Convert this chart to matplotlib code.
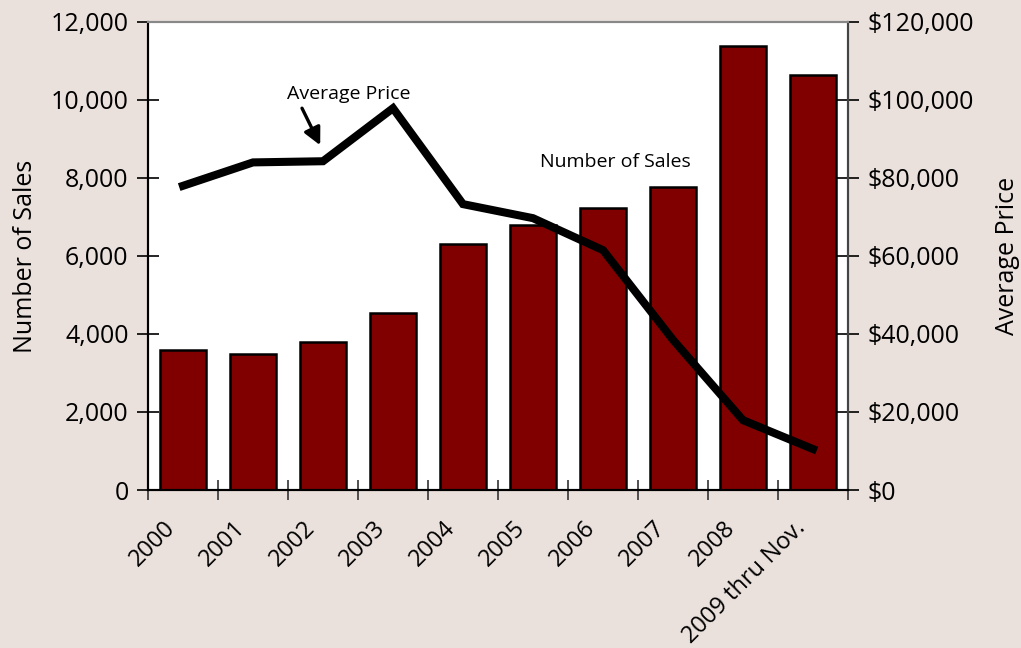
import matplotlib.pyplot as plt
import numpy as np
from matplotlib.ticker import FuncFormatter

# Annual sales and average price
categories = ["2000", "2001", "2002", "2003", "2004", "2005", "2006", "2007", "2008", "2009 thru Nov."]
num_sales = [3600, 3500, 3800, 4550, 6300, 6800, 7230, 7770, 11380, 10650]
avg_price = [78000, 84000, 84300, 97900, 73300, 69700, 61500, 38500, 17900, 10500]

plt.rcParams['font.family'] = ['Open Sans', 'DejaVu Sans']

bg = '#EAE0DC'
fig = plt.figure(figsize=(10.21, 6.48), dpi=100, facecolor=bg)
ax = fig.add_axes([148/1021, 1 - 490/648, 700/1021, 468/648])
ax.set_facecolor('white')

x = np.arange(len(categories))
ax.bar(x, num_sales, width=0.66, color='#800000', edgecolor='black', linewidth=1.8, zorder=2)
ax.set_xlim(-0.5, len(categories) - 0.5)
ax.set_ylim(0, 12000)
ax.set_yticks(np.arange(0, 12001, 2000))
ax.yaxis.set_major_formatter(FuncFormatter(lambda v, p: f"{int(v):,}"))
ax.set_ylabel("Number of Sales", fontsize=18, labelpad=9)

# Category ticks sit between bars; labels hang just left of each bar centre
ax.set_xticks(np.arange(-0.5, len(categories), 1.0))
ax.set_xticklabels([])
ax.set_xticks(x - 0.28, minor=True)
ax.set_xticklabels(categories, minor=True, rotation=45, ha='right', rotation_mode='anchor', fontsize=17)
ax.tick_params(axis='x', which='minor', length=0, pad=19)
ax.tick_params(axis='x', which='major', direction='inout', length=14, width=1.2, colors='#333333')
ax.tick_params(axis='y', direction='inout', length=16, width=1.2, labelsize=18, pad=6)

ax2 = ax.twinx()
ax2.plot(x, avg_price, color='black', linewidth=5.8, solid_joinstyle='miter', zorder=3)
ax2.set_ylim(0, 120000)
ax2.set_yticks(np.arange(0, 120001, 20000))
ax2.yaxis.set_major_formatter(FuncFormatter(lambda v, p: f"${int(v):,}"))
ax2.tick_params(axis='y', direction='inout', length=16, width=1.2, labelsize=18, pad=6)
ax2.set_ylabel("Average Price", fontsize=18, labelpad=15)

for a in (ax, ax2):
    a.spines['top'].set_color('#888888')
    a.spines['top'].set_linewidth(1.5)
    a.spines['left'].set_linewidth(1.5)
    a.spines['right'].set_linewidth(1.5)
    a.spines['right'].set_color('#444444')
    a.spines['bottom'].set_linewidth(1.5)

ax2.text(2.37, 101500, "Average Price", ha='center', va='center', fontsize=14)
ax2.annotate("", xy=(1.96, 88400), xytext=(1.7, 97900),
             arrowprops=dict(arrowstyle='-|>', color='black', lw=2.4, mutation_scale=26,
                             shrinkA=0, shrinkB=0))
ax2.text(6.17, 84100, "Number of Sales", ha='center', va='center', fontsize=14)

fig.savefig("out.png", dpi=100, facecolor=bg)
